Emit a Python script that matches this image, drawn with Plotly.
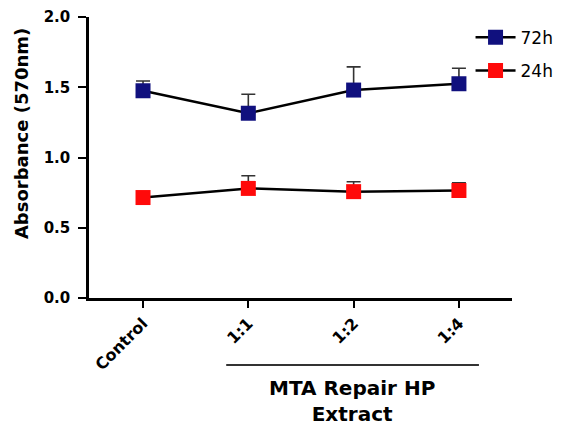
import plotly.graph_objects as go

categories = ["Control", "1:1", "1:2", "1:4"]
vals_72h = [1.475, 1.315, 1.48, 1.525]
err_72h = [0.07, 0.135, 0.165, 0.11]
vals_24h = [0.715, 0.78, 0.757, 0.765]
err_24h = [0.0, 0.09, 0.07, 0.055]
series_names = ["72h", "24h"]
y_ticks = [0.0, 0.5, 1.0, 1.5, 2.0]
y_title = "Absorbance (570nm)"
group_label = "MTA Repair HP<br>Extract"

FONT = "DejaVu Sans"
x_idx = list(range(len(categories)))

fig = go.Figure()
for name, vals, errs, color, grp in [
    (series_names[0], vals_72h, err_72h, "#10107e", "a"),
    (series_names[1], vals_24h, err_24h, "#ff0a0a", "b"),
]:
    fig.add_trace(go.Scatter(
        x=x_idx, y=vals, name=name, mode="lines+markers", legendgroup=grp,
        line=dict(color="black", width=2.5),
        marker=dict(symbol="square", size=15, color=color, line=dict(width=0)),
        error_y=dict(type="data", symmetric=False, array=errs,
                     arrayminus=[0] * len(errs), color="#333333",
                     thickness=1.6, width=7),
    ))

fig.update_layout(
    width=568, height=427,
    margin=dict(l=81, r=64, t=9, b=137, autoexpand=False),
    paper_bgcolor="white", plot_bgcolor="white",
    font=dict(family=FONT, color="black"),
    showlegend=True,
    legend=dict(x=0.902, y=0.99, xanchor="left", yanchor="top",
                font=dict(family=FONT, size=17, color="black"),
                bgcolor="rgba(0,0,0,0)", tracegroupgap=8, itemwidth=40,
                traceorder="grouped"),
    xaxis=dict(range=[-0.513, 3.504], tickmode="array", tickvals=x_idx,
               ticktext=categories, tickangle=-45, showline=True,
               linecolor="black", linewidth=2.5, ticks="outside",
               ticklen=7, tickwidth=2, tickcolor="black", showgrid=False,
               zeroline=False, automargin=False,
               tickfont=dict(family=FONT, size=16, color="black", weight="bold")),
    yaxis=dict(range=[0, 2], tickmode="array", tickvals=y_ticks,
               ticktext=[f"{v:.1f}" for v in y_ticks], showline=True,
               linecolor="black", linewidth=2.5, ticks="outside", ticklen=8,
               tickwidth=2, tickcolor="black", showgrid=False, zeroline=False,
               automargin=False, ticklabelstandoff=5,
               tickfont=dict(family=FONT, size=15, color="black", weight="bold")),
)

fig.add_annotation(text=y_title, textangle=-90, xref="paper", yref="paper",
                   x=-0.158, y=0.584, xanchor="center", yanchor="middle",
                   showarrow=False,
                   font=dict(family=FONT, size=18, color="black", weight="bold"))
fig.add_shape(type="line", xref="x", yref="paper", x0=0.79, x1=3.19,
              y0=-0.238, y1=-0.238, line=dict(color="#333333", width=2))
fig.add_annotation(text=group_label, xref="x", yref="paper", x=1.985,
                   y=-0.368, xanchor="center", yanchor="middle",
                   showarrow=False,
                   font=dict(family=FONT, size=20, color="black", weight="bold"))

fig.write_html("out.html")
